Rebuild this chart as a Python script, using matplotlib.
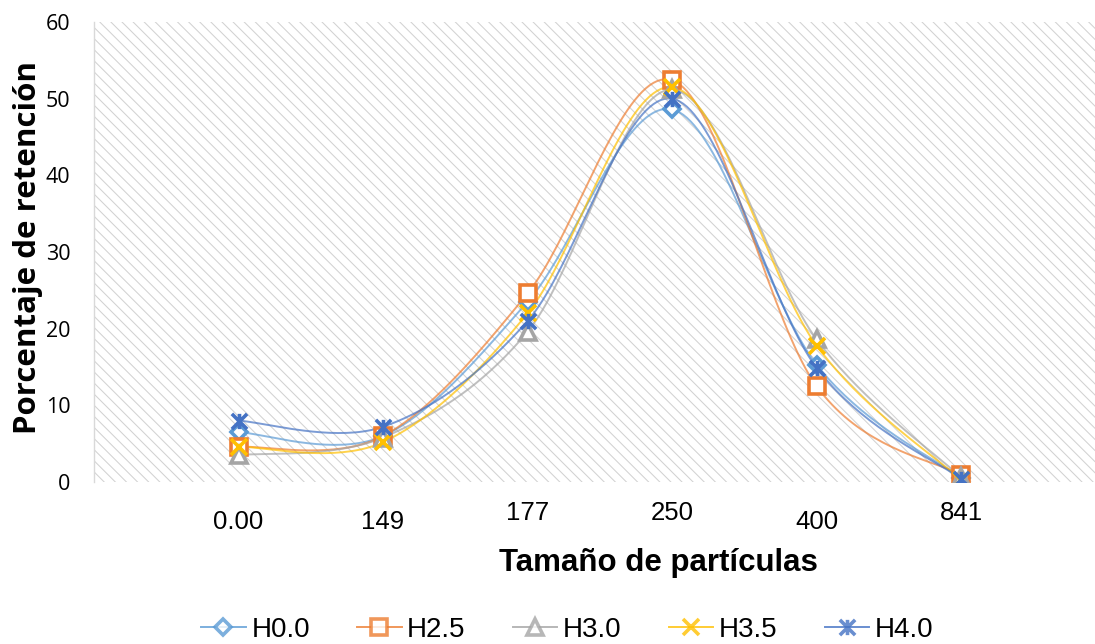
import numpy as np
import matplotlib
matplotlib.use("Agg")
import matplotlib.pyplot as plt
from matplotlib.path import Path
from matplotlib.lines import Line2D
from matplotlib.patches import Rectangle

# ---- data ----
categories = ["0.00", "149", "177", "250", "400", "841"]
series_names = ["H0.0", "H2.5", "H3.0", "H3.5", "H4.0"]
h00 = [6.5, 6.0, 23.5, 48.6, 15.3, 0.5]
h25 = [4.6, 6.0, 24.6, 52.4, 12.5, 0.9]
h30 = [3.5, 5.8, 19.6, 51.2, 18.6, 0.6]
h35 = [4.6, 5.2, 22.0, 51.5, 17.8, 0.3]
h40 = [8.0, 7.2, 21.0, 50.0, 14.9, 0.4]
y_ticks = [0, 10, 20, 30, 40, 50, 60]

colors = ["#5B9BD5", "#ED7D31", "#A5A5A5", "#FFC000", "#4472C4"]
star = Path([(0, -1), (0, 1), (-1, -1), (1, 1), (-1, 1), (1, -1)],
            [Path.MOVETO, Path.LINETO, Path.MOVETO, Path.LINETO, Path.MOVETO, Path.LINETO])
markers = ["D", "s", "^", "x", star]
msizes = [8.5, 11.5, 11, 11, 11]
mfill = ["white", "white", "white", "none", "none"]

def smooth(xs, ys, n=40):
    xs = np.asarray(xs, float); ys = np.asarray(ys, float)
    P = np.column_stack([xs, ys])
    ext = np.vstack([P[0], P, P[-1]])
    out = []
    for i in range(len(P) - 1):
        p0, p1, p2, p3 = ext[i], ext[i + 1], ext[i + 2], ext[i + 3]
        c1 = p1 + (p2 - p0) / 6.0
        c2 = p2 - (p3 - p1) / 6.0
        t = np.linspace(0, 1, n)[:, None]
        seg = ((1 - t) ** 3) * p1 + 3 * ((1 - t) ** 2) * t * c1 + 3 * (1 - t) * t ** 2 * c2 + t ** 3 * p2
        out.append(seg if i == 0 else seg[1:])
    S = np.vstack(out)
    return S[:, 0], S[:, 1]

plt.rcParams["hatch.linewidth"] = 0.75
fig = plt.figure(figsize=(10.95, 6.44), dpi=100)
ax = fig.add_axes([94 / 1095, 1 - 482 / 644, (1105.6 - 94) / 1095, 460 / 644])
ax.patch.set_visible(False)
bg = Rectangle((0, 0), 1, 1, transform=ax.transAxes, facecolor="white",
               edgecolor="#d2d2d2", linewidth=0, hatch="\\\\\\", zorder=0)
ax.add_patch(bg)

x = np.arange(len(categories))
all_series = [h00, h25, h30, h35, h40]
handles = []
for name, ys, c, m, ms, mf in zip(series_names, all_series, colors, markers, msizes, mfill):
    sx, sy = smooth(x, ys)
    ax.plot(sx, sy, color=c, lw=1.4, alpha=0.7, zorder=2)
    ax.plot(x, ys, linestyle="none", marker=m, markersize=ms, markerfacecolor=mf,
            markeredgecolor=c, markeredgewidth=2.6, zorder=3)
    handles.append(Line2D([0], [0], color=c, lw=1.4, alpha=0.8, marker=m, markersize=ms,
                          markerfacecolor=mf, markeredgecolor=c, markeredgewidth=2.6))

ax.set_xlim(-1, 6)
ax.set_ylim(0, 60)
ax.set_yticks(y_ticks)
ax.set_yticklabels([str(v) for v in y_ticks], fontfamily="Open Sans", fontsize=15.5)
ax.tick_params(axis="y", length=0, pad=17)
ax.set_xticks([])
for s in ["top", "right", "bottom"]:
    ax.spines[s].set_visible(False)
ax.spines["left"].set_color("#d9d9d9")
ax.spines["left"].set_linewidth(1.0)

offsets = [-0.087, -0.087, -0.0674, -0.0674, -0.087, -0.0674]
for xi, lab, off in zip(x, categories, offsets):
    ax.text(xi, off, lab, transform=ax.get_xaxis_transform(), ha="center", va="center",
            fontsize=18.5, family="Liberation Sans")

fig.text(658 / 1095, 1 - 563 / 644, "Tamaño de partículas", ha="center", va="center",
         fontsize=22.5, fontweight="bold", family="Liberation Sans")
fig.text(28 / 1095, 1 - 247 / 644, "Porcentaje de retención", ha="center", va="center",
         rotation=90, fontsize=22.5, fontweight="bold", family="Open Sans")

leg = fig.legend(handles, series_names, loc="center", bbox_to_anchor=(0.518, 0.022), ncol=5,
                 frameon=False, prop={"family": "Liberation Sans", "size": 20},
                 handlelength=1.6, handletextpad=0.2, columnspacing=1.7, borderpad=0)

fig.savefig("out.png", dpi=100)
